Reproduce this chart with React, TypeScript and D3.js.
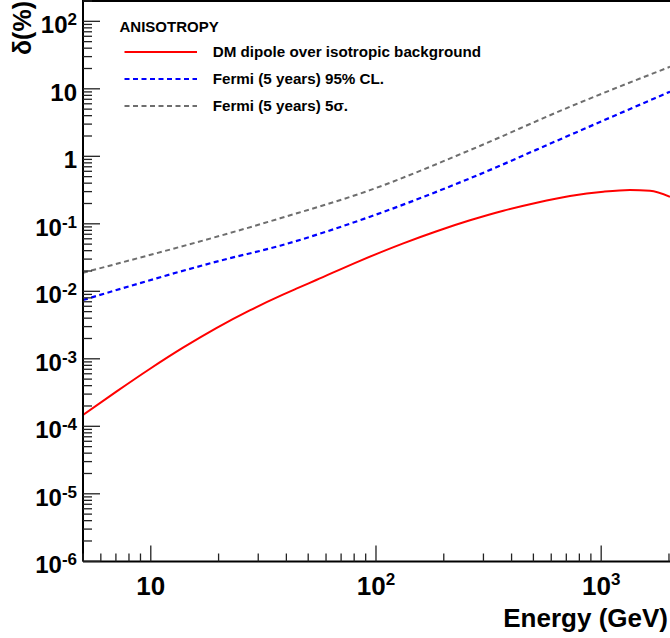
import React from "react";
import * as d3 from "d3";

const redEnergy = [5, 7.03, 9.89, 13.9, 19.54, 27.5, 38.6, 44.3, 54.3, 84.9, 132.2, 186, 261.5, 367.6, 517, 727, 1021.6, 1342, 1647, 2021];
const redValues = [1.47e-4, 3.26e-4, 7.06e-4, 1.46e-3, 2.85e-3, 5.21e-3, 8.91e-3, 1.093e-2, 1.47e-2, 2.83e-2, 5.14e-2, 7.77e-2, 0.1127, 0.1563, 0.2055, 0.258, 0.299, 0.317, 0.309, 0.252];

const blueEnergy = [5, 20.9, 37.5, 94.1, 261.5, 727, 2021];
const blueValues = [7.43e-3, 0.0291, 0.0474, 0.1274, 0.472, 2.07, 9.06];

const grayEnergy = [5, 37.5, 94.1, 261.5, 727, 2021];
const grayValues = [0.01887, 0.1206, 0.3155, 1.236, 5.43, 21.2];

const xMajor = [10, 100, 1000];
const xMajorLabels = [["10", ""], ["10", "2"], ["10", "3"]];
const yMajorExp = [2, 1, 0, -1, -2, -3, -4, -5, -6];

const legendTitle = "ANISOTROPY";
const legendLabels = ["DM dipole over isotropic background", "Fermi (5 years) 95% CL.", "Fermi (5 years) 5σ."];

const W = 670, H = 638;
const FONT = "'Liberation Sans', Arial, Helvetica, sans-serif";

export default function App() {
  const x = d3.scaleLog().domain([5, 2021]).range([83, 670]);
  const y = d3.scaleLog().domain([1e-6, 200]).range([561.3, 1.0]);
  const left = 83, bottom = 561.5;

  const mk = (es: number[], vs: number[]) =>
    d3.line<number>().x((_, i) => x(es[i])).y((v) => y(v)).curve(d3.curveMonotoneX)(vs) || "";

  const xMinor: number[] = [];
  for (let d = 1; d <= 1000; d *= 10) for (let k = 2; k <= 9; k++) { const v = k * d; if (v >= 5 && v <= 2000) xMinor.push(v); }
  const yMinor: number[] = [];
  for (let e = -6; e <= 2; e++) for (let k = 2; k <= 9; k++) { const v = k * Math.pow(10, e); if (v <= 200) yMinor.push(v); }

  const legendY = [52, 79, 106];
  const legendColors = ["#ff0000", "#0000ff", "#6e6e6e"];
  const legendDash = [null, "5,3.5", "5,3.5"];

  return (
    <div style={{ position: "absolute", left: 0, top: 0 }}>
      <svg width={W} height={H} style={{ display: "block", background: "#fff" }} fontFamily={FONT}>
        <defs>
          <clipPath id="plotclip">
            <rect x={left} y={1} width={W - left} height={bottom - 1} />
          </clipPath>
        </defs>
        <rect x={0} y={0} width={W} height={H} fill="#fff" />
        <g clipPath="url(#plotclip)" fill="none">
          <path d={mk(grayEnergy, grayValues)} stroke="#6e6e6e" strokeWidth={2} strokeDasharray="5,3.5" />
          <path d={mk(blueEnergy, blueValues)} stroke="#0000ff" strokeWidth={2.2} strokeDasharray="5,3.5" />
          <path d={mk(redEnergy, redValues)} stroke="#ff0000" strokeWidth={2} />
        </g>
        <line x1={left} y1={1} x2={W} y2={1} stroke="#000" strokeWidth={2} />
        <line x1={left} y1={0} x2={left} y2={bottom} stroke="#000" strokeWidth={2} />
        <line x1={left} y1={bottom} x2={W} y2={bottom} stroke="#000" strokeWidth={2} />
        {xMajor.map((v) => (
          <line key={"xM" + v} x1={x(v)} x2={x(v)} y1={bottom} y2={bottom - 16} stroke="#222" strokeWidth={1.3} />
        ))}
        {xMinor.filter((v) => x(v) < W - 1).map((v) => (
          <line key={"xm" + v} x1={x(v)} x2={x(v)} y1={bottom} y2={bottom - 8} stroke="#222" strokeWidth={1.3} />
        ))}
        {yMajorExp.map((e) => (
          <line key={"yM" + e} x1={left} x2={left + 17} y1={y(Math.pow(10, e))} y2={y(Math.pow(10, e))} stroke="#222" strokeWidth={1.3} />
        ))}
        {yMinor.map((v) => (
          <line key={"ym" + v} x1={left} x2={left + 9} y1={y(v)} y2={y(v)} stroke="#222" strokeWidth={1.3} />
        ))}
        {yMajorExp.map((e) => {
          const yy = y(Math.pow(10, e)) + 12;
          return (
            <text key={"yl" + e} x={77} y={yy} textAnchor="end" fontSize={24} fontWeight="bold">
              {e === 0 ? "1" : e === 1 ? "10" : (
                <>
                  <tspan>10</tspan>
                  <tspan dy={-8} fontSize={17}>{String(e)}</tspan>
                </>
              )}
            </text>
          );
        })}
        {xMajor.map((v, i) => (
          <text key={"xl" + v} x={x(v)} y={595} textAnchor="middle" fontSize={26} fontWeight="bold">
            <tspan>{xMajorLabels[i][0]}</tspan>
            {xMajorLabels[i][1] && <tspan dy={-10} fontSize={17}>{xMajorLabels[i][1]}</tspan>}
          </text>
        ))}
        <text x={668} y={627} textAnchor="end" fontSize={26} fontWeight="bold">Energy (GeV)</text>
        <text transform="translate(31,1) rotate(-90)" textAnchor="end" fontSize={25} fontWeight="bold">δ(%)</text>
        <text x={119.5} y={32.3} fontSize={15} fontWeight="bold">{legendTitle}</text>
        {legendLabels.map((lab, i) => (
          <g key={"lg" + i}>
            <line x1={124.5} x2={197} y1={legendY[i]} y2={legendY[i]} stroke={legendColors[i]} strokeWidth={2}
              strokeDasharray={legendDash[i] || undefined} />
            <text x={212.7} y={legendY[i] + 5.3} fontSize={15.2} fontWeight="bold">{lab}</text>
          </g>
        ))}
      </svg>
    </div>
  );
}
